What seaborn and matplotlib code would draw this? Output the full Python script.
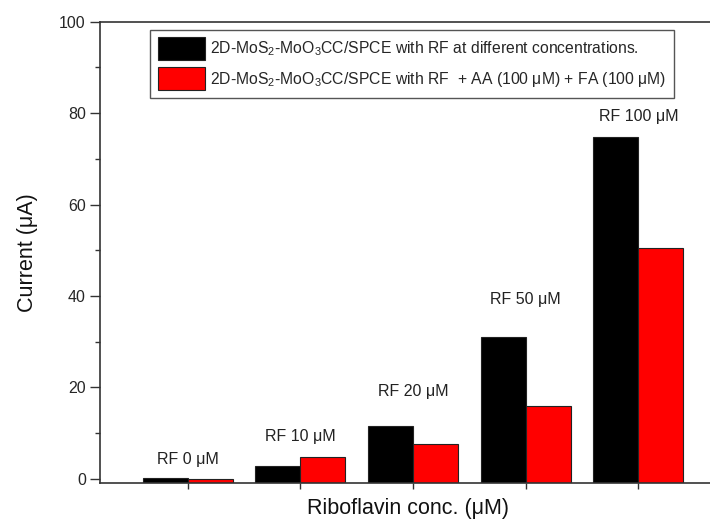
import matplotlib
matplotlib.use("Agg")
import matplotlib.pyplot as plt
from matplotlib.ticker import MultipleLocator
import seaborn as sns
import pandas as pd

# Peak currents for each riboflavin concentration
concentrations = ["RF 0 μM", "RF 10 μM", "RF 20 μM", "RF 50 μM", "RF 100 μM"]
series_names = [
    r"2D-MoS$_\mathregular{2}$-MoO$_\mathregular{3}$CC/SPCE with RF at different concentrations.",
    r"2D-MoS$_\mathregular{2}$-MoO$_\mathregular{3}$CC/SPCE with RF  + AA (100 μM) + FA (100 μM)",
]
current_rf = [0.1, 2.8, 11.6, 31.0, 74.7]
current_interf = [-0.1, 4.8, 7.7, 16.0, 50.5]
bar_colors = ["#000000", "#ff0000"]

# heights at which the concentration captions sit
caption_y = [4.3, 9.2, 19.0, 39.2, 79.2]

sns.set_theme(style="white")
plt.rcParams["font.family"] = ["Liberation Sans", "DejaVu Sans"]
plt.rcParams["mathtext.fontset"] = "custom"
plt.rcParams["mathtext.rm"] = "Liberation Sans"

df = pd.DataFrame({
    "conc": concentrations * 2,
    "current": current_rf + current_interf,
    "series": [series_names[0]] * 5 + [series_names[1]] * 5,
})

W, H = 710, 527
fig = plt.figure(figsize=(W / 100, H / 100), dpi=100)
ax_left, ax_right, ax_top, ax_bottom = 100, 726, 21.7, 483.3
ax = fig.add_axes([ax_left / W, 1 - ax_bottom / H,
                   (ax_right - ax_left) / W, (ax_bottom - ax_top) / H])

sns.barplot(data=df, x="conc", y="current", hue="series",
            order=concentrations, hue_order=series_names,
            palette=bar_colors, width=0.8, edgecolor="#222222",
            linewidth=0.8, saturation=1, ax=ax)

ymin, ymax = -1, 100
# bars rise from the bottom of the axis frame
for p in ax.patches:
    top = p.get_y() + p.get_height()
    if p.get_width() > 0:
        p.set_y(ymin)
        p.set_height(top - ymin)

ax.set_ylim(ymin, ymax)
ax.set_xlim(-0.778, 4.778)

ax.yaxis.set_major_locator(MultipleLocator(20))
ax.yaxis.set_minor_locator(MultipleLocator(10))
ax.tick_params(axis="y", which="major", direction="out", length=7.2, width=1,
               color="#333333", labelsize=11.5, pad=3, left=True)
ax.tick_params(axis="y", which="minor", direction="out", length=3.6, width=1,
               color="#333333", left=True)
ax.tick_params(axis="x", which="major", direction="out", length=4.5, width=1,
               color="#333333", bottom=True)
ax.set_xticks(range(len(concentrations)))
ax.set_xticklabels([""] * len(concentrations))

for side in ["left", "bottom", "top", "right"]:
    ax.spines[side].set_color("#333333")
    ax.spines[side].set_linewidth(1.2)

for i, (lab, yy) in enumerate(zip(concentrations, caption_y)):
    ax.text(i, yy, lab, ha="center", va="center", fontsize=11.5, color="#222222")

ax.set_ylabel("Current (μA)", fontsize=15.5, color="#111111")
ax.yaxis.set_label_coords((38 - ax_left) / (ax_right - ax_left), 0.5)
ax.set_xlabel("Riboflavin conc. (μM)", fontsize=15.5, color="#111111")
ax.xaxis.set_label_coords((408 - ax_left) / (ax_right - ax_left),
                          (ax_bottom - 498) / (ax_bottom - ax_top))

handles, labels = ax.get_legend_handles_labels()
ax.legend(handles, labels, loc="upper left",
          bbox_to_anchor=(150 / W, 1 - 29.5 / H), bbox_transform=fig.transFigure,
          fontsize=11.3, frameon=True, fancybox=False, edgecolor="#555555",
          framealpha=1, handlelength=3.0, handleheight=1.85,
          handletextpad=0.3, labelspacing=0.45, borderpad=0.5,
          borderaxespad=0, title=None)
ax.get_legend().get_frame().set_linewidth(1.0)

fig.savefig("out.png", dpi=100)
